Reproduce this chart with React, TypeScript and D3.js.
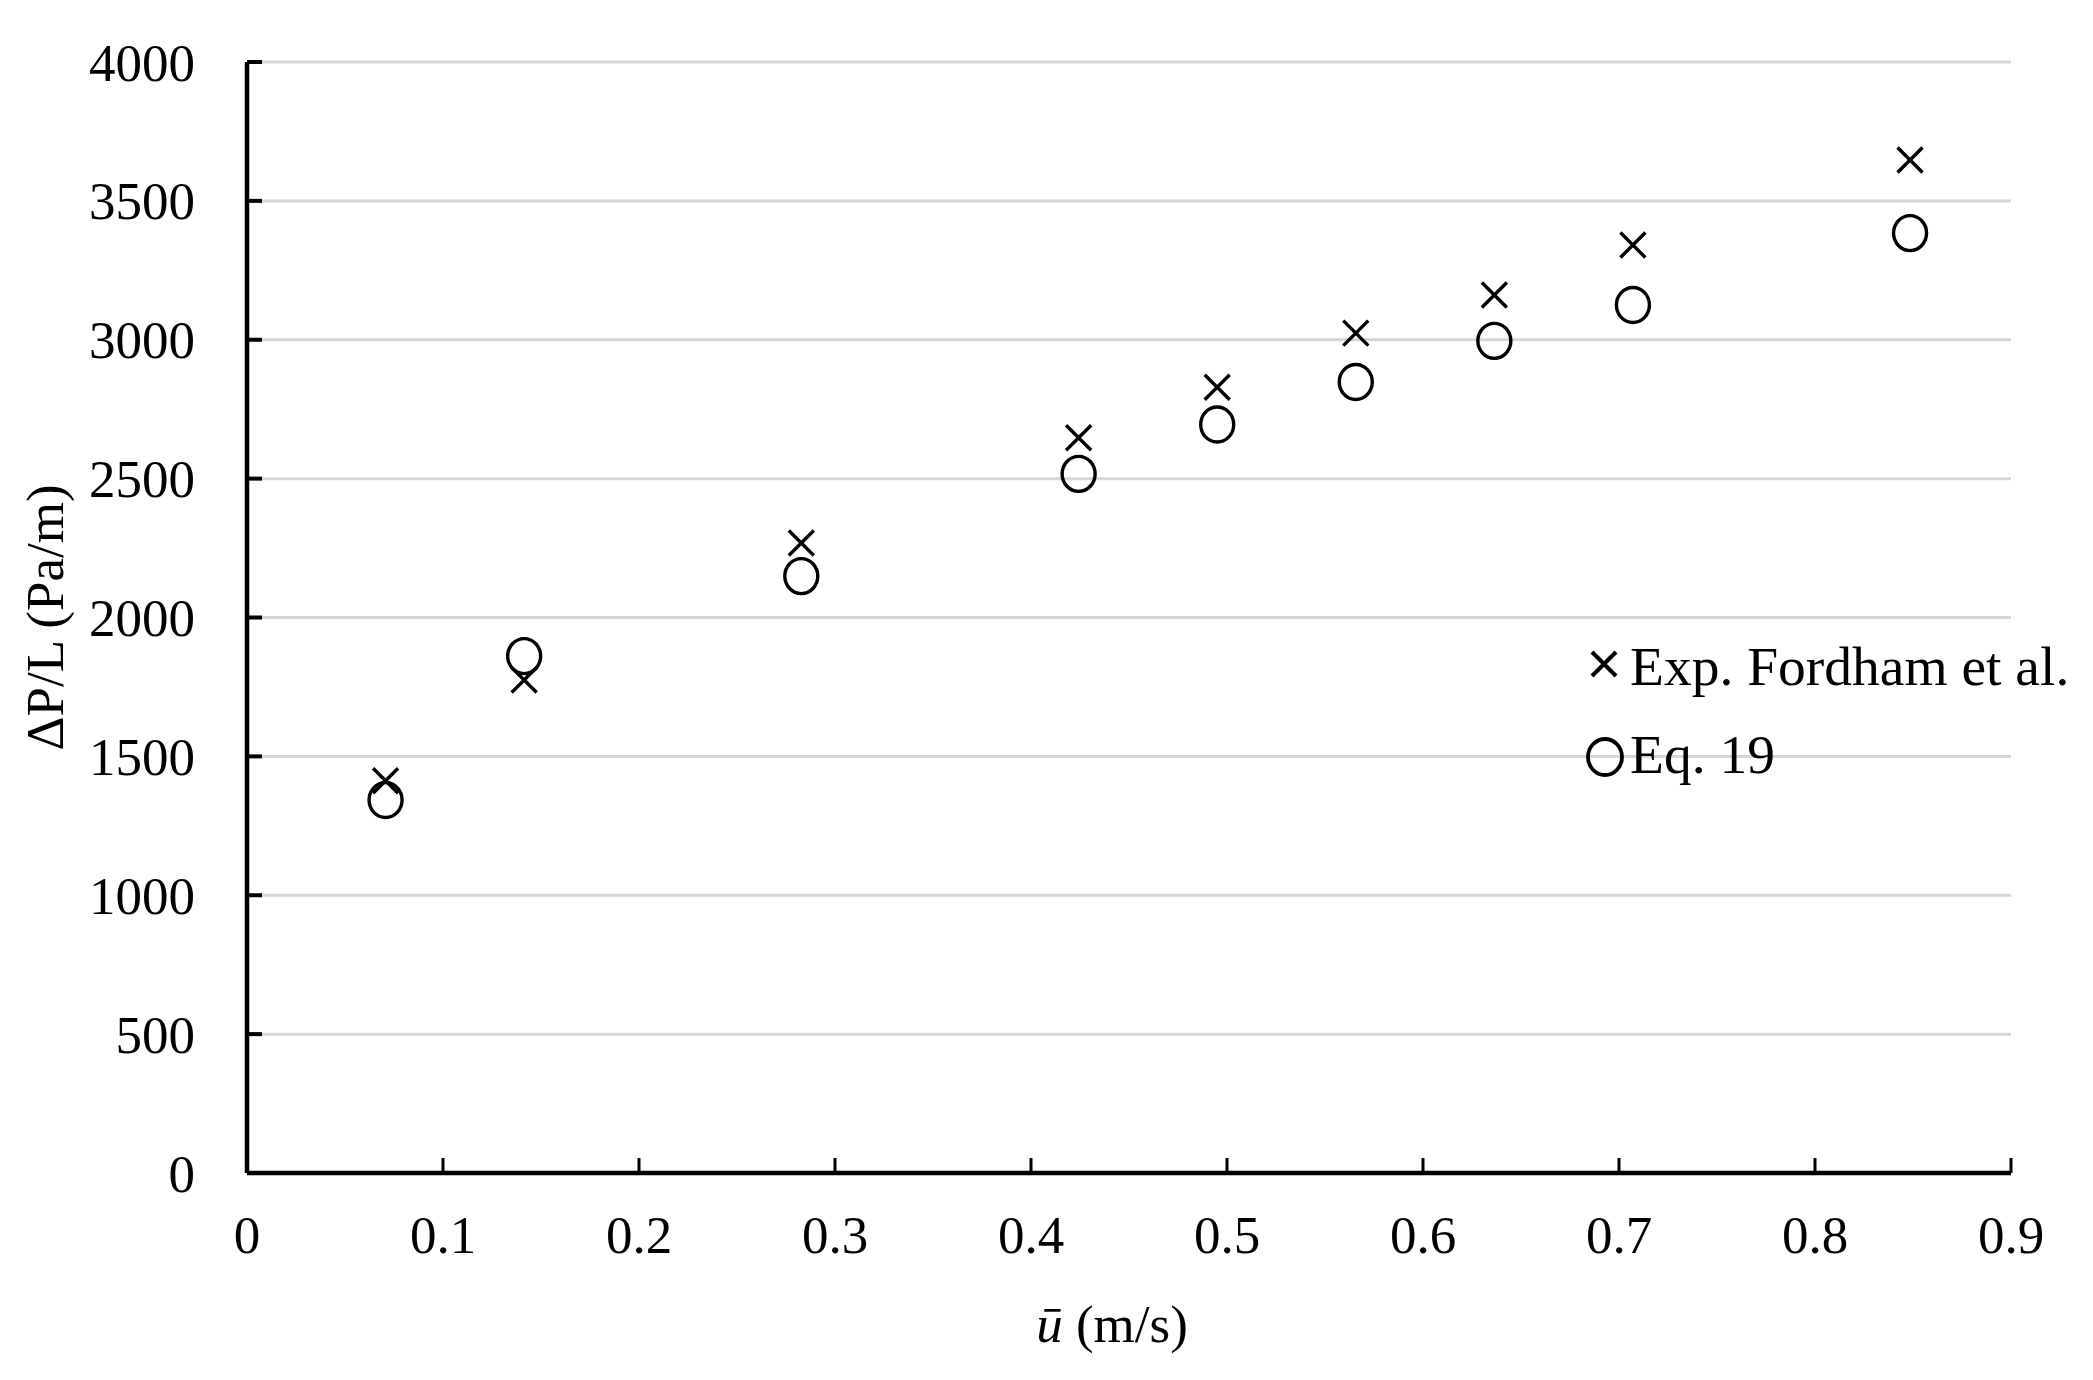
import React, { useEffect } from 'react';
import * as d3 from 'd3';

// mean velocity (m/s)
const velocities = [0.0707, 0.1414, 0.2828, 0.4243, 0.495, 0.5657, 0.6364, 0.7071, 0.8485];
// pressure gradient, experiments of Fordham et al. (Pa/m)
const expFordham = [1412, 1775, 2268, 2647, 2829, 3024, 3161, 3341, 3647];
// pressure gradient from Eq. 19 (Pa/m)
const eq19 = [1343, 1861, 2149, 2517, 2695, 2848, 2996, 3125, 3384];

const xTicks = [0, 0.1, 0.2, 0.3, 0.4, 0.5, 0.6, 0.7, 0.8, 0.9];
const yTicks = [0, 500, 1000, 1500, 2000, 2500, 3000, 3500, 4000];

const legendLabels = ['Exp. Fordham et al.', 'Eq. 19'];

const W = 2093;
const H = 1380;
const FONT = '"Liberation Serif", "Times New Roman", serif';

const Cross: React.FC<{ cx: number; cy: number; s?: number; w?: number }> = ({ cx, cy, s = 12.5, w = 3.4 }) => (
  <path
    d={`M${cx - s},${cy - s}L${cx + s},${cy + s}M${cx - s},${cy + s}L${cx + s},${cy - s}`}
    stroke="#000"
    strokeWidth={w}
    fill="none"
  />
);

const App: React.FC = () => {
  useEffect(() => {
    document.body.style.margin = '0';
  }, []);

  const margin = { top: 62, right: 82, bottom: 207, left: 247 };
  const x = d3.scaleLinear().domain([0, 0.9]).range([margin.left, W - margin.right]);
  const y = d3.scaleLinear().domain([0, 4000]).range([H - margin.bottom, margin.top]);

  const x0 = x(0);
  const y0 = y(0);

  return (
    <svg width={W} height={H} style={{ display: 'block', background: '#fff' }} fontFamily={FONT}>
      {/* gridlines */}
      {yTicks.filter(t => t > 0).map(t => (
        <line key={'g' + t} x1={x0} x2={x(0.9)} y1={y(t)} y2={y(t)} stroke="#d6d6d6" strokeWidth={3} />
      ))}

      {/* axes */}
      <line x1={x0} x2={x0} y1={y(4000)} y2={y0} stroke="#000" strokeWidth={4.5} />
      <line x1={x0} x2={x(0.9)} y1={y0} y2={y0} stroke="#000" strokeWidth={4.5} />

      {yTicks.map(t => (
        <g key={'y' + t}>
          <line x1={x0} x2={x0 + 15} y1={y(t)} y2={y(t)} stroke="#000" strokeWidth={4} />
          <text x={195} y={y(t)} dy="0.35em" textAnchor="end" fontSize={53}>
            {t}
          </text>
        </g>
      ))}

      {xTicks.map(t => (
        <g key={'x' + t}>
          <line x1={x(t)} x2={x(t)} y1={y0} y2={y0 - 15} stroke="#000" strokeWidth={3} />
          <text x={x(t)} y={1253} textAnchor="middle" fontSize={53}>
            {t}
          </text>
        </g>
      ))}

      {/* axis titles */}
      <text
        transform={`translate(63,${(y(0) + y(4000)) / 2}) rotate(-90)`}
        textAnchor="middle"
        fontSize={53}
      >
        ΔP/L (Pa/m)
      </text>
      <text x={1112} y={1342} textAnchor="middle" fontSize={53}>
        <tspan fontStyle="italic">ū</tspan> (m/s)
      </text>

      {/* data */}
      {velocities.map((v, i) => (
        <Cross key={'e' + i} cx={x(v)} cy={y(expFordham[i])} />
      ))}
      {velocities.map((v, i) => (
        <ellipse key={'q' + i} cx={x(v)} cy={y(eq19[i])} rx={16.5} ry={17.5} fill="none" stroke="#000" strokeWidth={3.4} />
      ))}

      {/* legend */}
      <Cross cx={1604} cy={664} s={12} w={4} />
      <text x={1630} y={685} fontSize={55.5}>
        {legendLabels[0]}
      </text>
      <ellipse cx={1605} cy={757} rx={17} ry={18} fill="none" stroke="#000" strokeWidth={3.8} />
      <text x={1630} y={773} fontSize={55.5}>
        {legendLabels[1]}
      </text>
    </svg>
  );
};

export default App;
